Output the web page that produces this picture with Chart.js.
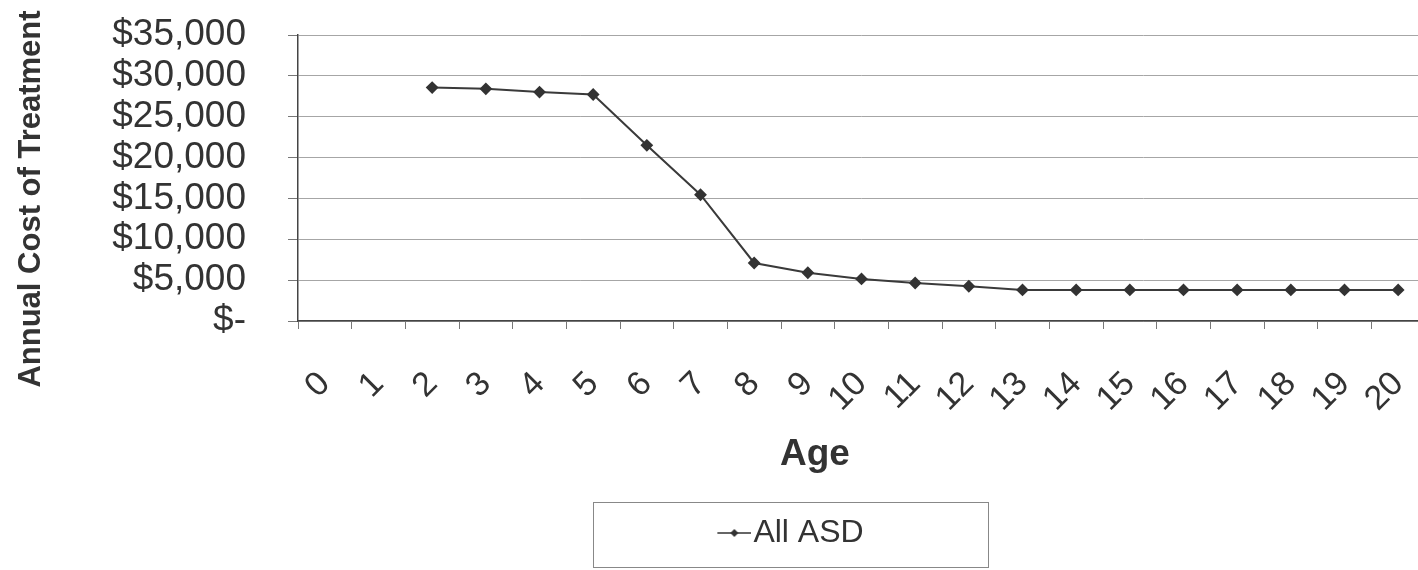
<!DOCTYPE html>
<html>
<head>
<meta charset="utf-8">
<title>Annual Cost of Treatment by Age</title>
<script src="https://cdn.jsdelivr.net/npm/chart.js@4.4.1/dist/chart.umd.min.js"></script>
<style>
  html, body { margin: 0; padding: 0; background: #fff; overflow: hidden; }
  #wrap { width: 1432px; height: 570px; }
</style>
</head>
<body>
<div id="wrap"><canvas id="costChart" width="1432" height="570"></canvas></div>
<script>
const ages = ["0", "1", "2", "3", "4", "5", "6", "7", "8", "9", "10",
  "11", "12", "13", "14", "15", "16", "17", "18", "19", "20"];
const allAsd = [null, null, 28570, 28410, 28010, 27720, 21500, 15450, 7100, 5900, 5150,
  4650, 4250, 3800, 3800, 3800, 3800, 3800, 3800, 3800, 3800];
const seriesName = "All ASD";
const yTitle = "Annual Cost of Treatment";
const xTitle = "Age";

const fontFamily = "'Liberation Sans', Arial, sans-serif";
const ink = "#333";

// little line-with-diamond swatch for the legend
const marker = document.createElement("canvas");
marker.width = 48;
marker.height = 16;
const mctx = marker.getContext("2d");
mctx.strokeStyle = ink;
mctx.lineWidth = 1.5;
mctx.beginPath();
mctx.moveTo(14, 8);
mctx.lineTo(48, 8);
mctx.stroke();
mctx.fillStyle = ink;
mctx.beginPath();
mctx.moveTo(31, 4);
mctx.lineTo(35, 8);
mctx.lineTo(31, 12);
mctx.lineTo(27, 8);
mctx.closePath();
mctx.fill();

// axis titles and the legend frame, placed like the original sheet chart
const extras = {
  id: "extras",
  afterLayout(chart) {
    chart.legend.left = 593;
    chart.legend.right = 988;
  },
  afterDraw(chart) {
    const ctx = chart.ctx;
    ctx.save();
    ctx.strokeStyle = "#888";
    ctx.lineWidth = 1;
    ctx.strokeRect(593.5, 502.5, 395, 65);

    ctx.fillStyle = ink;
    ctx.textAlign = "center";
    ctx.textBaseline = "alphabetic";
    ctx.font = "bold 37px " + fontFamily;
    ctx.fillText(xTitle, 815, 465);

    ctx.font = "bold 31px " + fontFamily;
    ctx.translate(40, 199);
    ctx.rotate(-Math.PI / 2);
    ctx.fillText(yTitle, 0, 0);
    ctx.restore();
  }
};

new Chart(document.getElementById("costChart"), {
  type: "line",
  data: {
    labels: ages,
    datasets: [{
      label: seriesName,
      data: allAsd,
      borderColor: "#3a3a3a",
      borderWidth: 2,
      backgroundColor: ink,
      pointStyle: "rectRot",
      pointRadius: 5,
      pointBackgroundColor: ink,
      pointBorderColor: ink,
      tension: 0,
      spanGaps: false
    }]
  },
  options: {
    responsive: false,
    animation: false,
    events: [],
    layout: { padding: { top: 35, right: 5, bottom: 11, left: 0 } },
    plugins: {
      tooltip: { enabled: false },
      legend: {
        position: "bottom",
        labels: {
          usePointStyle: true,
          pointStyle: marker,
          pointStyleWidth: 20,
          padding: 10,
          color: ink,
          font: { family: fontFamily, size: 32 }
        }
      }
    },
    scales: {
      x: {
        offset: true,
        afterFit(scale) {
          scale.height = 186;
          scale.paddingLeft = 0;
          scale.paddingRight = 0;
        },
        grid: {
          offset: true,
          drawOnChartArea: false,
          drawTicks: true,
          tickLength: 8,
          tickColor: "#777"
        },
        border: { color: "#444", width: 1.5 },
        ticks: {
          autoSkip: false,
          minRotation: 45,
          maxRotation: 45,
          padding: 35,
          color: ink,
          font: { family: fontFamily, size: 34 }
        }
      },
      y: {
        min: 0,
        max: 35000,
        afterFit(scale) {
          scale.width = 298;
          scale.paddingTop = 0;
          scale.paddingBottom = 0;
        },
        grid: {
          color: "#a6a6a6",
          lineWidth: 1,
          tickLength: 10,
          tickColor: "#777"
        },
        border: { color: "#444", width: 1.5 },
        ticks: {
          stepSize: 5000,
          autoSkip: false,
          padding: 42,
          color: ink,
          font: { family: fontFamily, size: 37, lineHeight: 1 },
          callback: (v) => v === 0 ? "$-" : "$" + v.toLocaleString("en-US")
        }
      }
    }
  },
  plugins: [extras]
});
</script>
</body>
</html>
